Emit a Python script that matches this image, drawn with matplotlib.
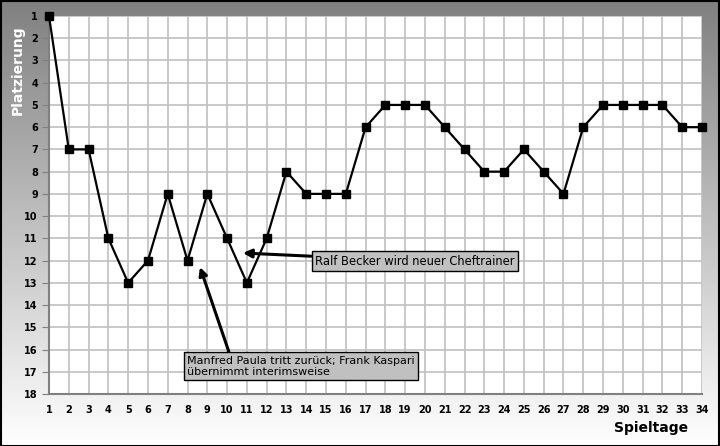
import numpy as np
import matplotlib
matplotlib.use("Agg")
import matplotlib.pyplot as plt
from matplotlib.patches import Rectangle
from matplotlib.colors import LinearSegmentedColormap

spieltage = list(range(1, 35))
platz = [1, 7, 7, 11, 13, 12, 9, 12, 9, 11, 13, 11, 8, 9, 9, 9, 6, 5, 5, 5,
         6, 7, 8, 8, 7, 8, 9, 6, 5, 5, 5, 5, 6, 6]
y_ticks = list(range(1, 19))

fig = plt.figure(figsize=(7.2, 4.46), dpi=100)

# gradient background
bg = fig.add_axes([0, 0, 1, 1], zorder=0)
grad = np.linspace(0, 1, 256).reshape(-1, 1)
cmap = LinearSegmentedColormap.from_list("g", ["#808080", "#ffffff"])
bg.imshow(grad, aspect="auto", cmap=cmap, extent=[0, 1, 0, 1], origin="upper")
bg.set_xlim(0, 1); bg.set_ylim(0, 1)
bg.axis("off")
fig.patches.append(Rectangle((0.0007, 0.001), 0.9986, 0.997, transform=fig.transFigure,
                             fill=False, edgecolor="black", linewidth=1.5, zorder=10))

ax = fig.add_axes([49/720, (446-394)/446, (702-49)/720, (394-16)/446], zorder=1)
ax.set_facecolor("white")
ax.plot(spieltage, platz, color="black", linewidth=1.6, marker="s", markersize=6,
        markerfacecolor="black", markeredgecolor="black", zorder=3, clip_on=False)
ax.set_xlim(1, 34)
ax.set_ylim(18, 1)
ax.set_xticks(spieltage)
ax.set_yticks(y_ticks)
ax.grid(True, color="#c0c0c0", linewidth=1.2, zorder=0)
ax.set_axisbelow(True)
for s in ["top", "right"]:
    ax.spines[s].set_visible(False)
for s in ["left", "bottom"]:
    ax.spines[s].set_color("#808080")
    ax.spines[s].set_linewidth(1.5)
ax.tick_params(axis="y", length=5, color="#808080", labelsize=7, pad=3)
ax.tick_params(axis="x", length=0, labelsize=7, pad=8)
for lbl in ax.get_xticklabels() + ax.get_yticklabels():
    lbl.set_fontweight("bold")

fig.text(18/720, 1 - 70/446, "Platzierung", rotation=90, color="white",
         fontsize=10, fontweight="bold", ha="center", va="center")
fig.text(688/720, 1 - 428/446, "Spieltage", color="black",
         fontsize=10, fontweight="bold", ha="right", va="center")

box = dict(boxstyle="square,pad=0.3", facecolor="#c0c0c0", edgecolor="black", linewidth=1)
arrow = dict(arrowstyle="-|>,head_length=0.6,head_width=0.3", color="black", linewidth=2.2,
             shrinkA=0, shrinkB=0)
ax.annotate("Ralf Becker wird neuer Cheftrainer", xy=(10.8, 11.66), xytext=(14.45, 12.02),
            fontsize=8.3, ha="left", va="center", bbox=box, arrowprops=arrow, zorder=5)
ax.annotate("Manfred Paula tritt zurück; Frank Kaspari\nübernimmt interimsweise",
            xy=(8.63, 12.29), xytext=(7.97, 16.75), fontsize=8.0, ha="left", va="center",
            bbox=box, arrowprops=dict(arrow, relpos=(0.19, 1.0)), zorder=5, linespacing=1.15)

fig.savefig("out.png", dpi=100)
